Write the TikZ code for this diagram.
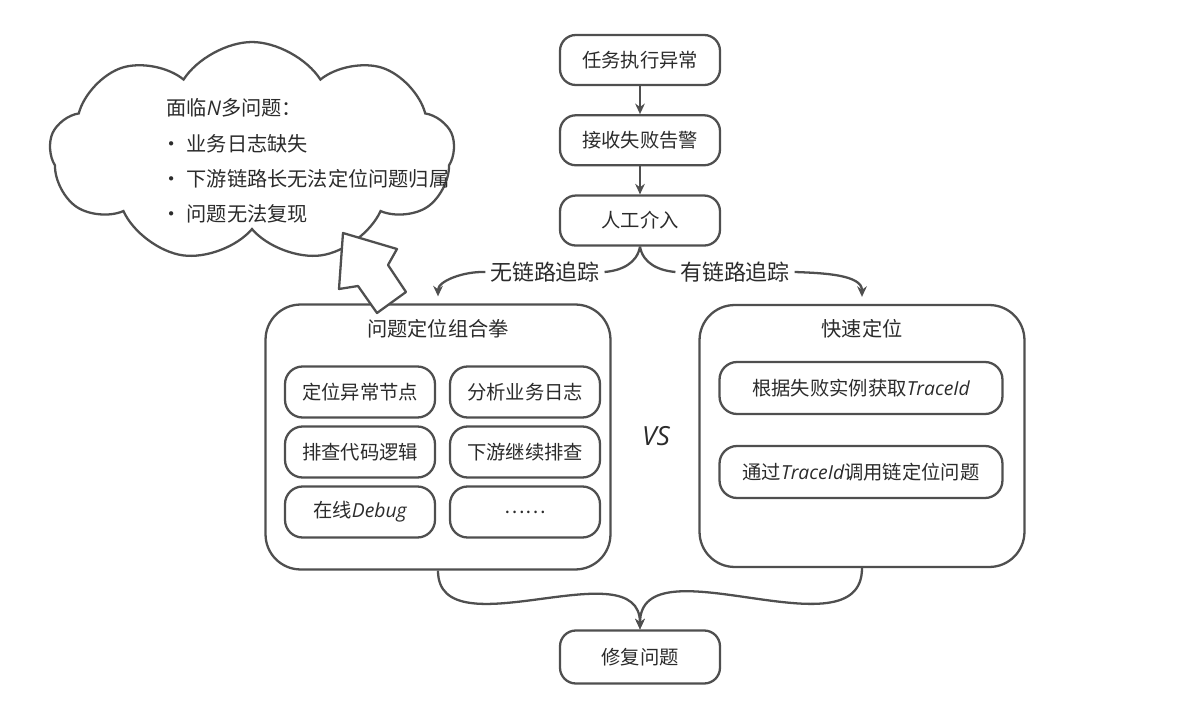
\documentclass[tikz,border=0pt]{standalone}
\usepackage{fontspec}
\setmainfont{Noto Sans CJK SC}
\newfontfamily\latfont{Open Sans}
\newcommand{\lat}[1]{{\latfont\itshape #1}}
\usepackage{xcolor}
\usetikzlibrary{arrows.meta,positioning,shapes.symbols}
\definecolor{ink}{HTML}{4F4F4F}
\definecolor{txt}{HTML}{2B2B2B}

\begin{document}
\begin{tikzpicture}[
    x=0.02cm, y=-0.02cm,
    >={Stealth[length=6pt,width=5.5pt]},
    node distance=0.56cm,
    color=ink, line width=1.3pt,
    stepbox/.style={draw, rounded corners=9pt, minimum width=3.2cm,
               minimum height=1.0cm, text=txt, font=\fontsize{11}{13}\selectfont},
    bigbox/.style={draw, rounded corners=20pt, minimum width=6.9cm,
               minimum height=5.3cm},
    subbox/.style={draw, rounded corners=10pt, minimum width=3.0cm,
               minimum height=1.02cm, text=txt, font=\fontsize{11}{13}\selectfont},
    wide/.style={subbox, minimum width=5.66cm, minimum height=1.04cm},
    ttl/.style={text=txt, font=\fontsize{11.5}{13}\selectfont},
    lbl/.style={fill=white, inner sep=2pt, text=txt,
               font=\fontsize{12.5}{14}\selectfont}
]
    \useasboundingbox (0,0) rectangle (1188,716);

    % main chain
    \node[stepbox] (err) at (640,60) {任务执行异常};
    \node[stepbox, below=of err] (alarm) {接收失败告警};
    \node[stepbox, below=of alarm] (manual) {人工介入};

    % left: no tracing
    \node[bigbox] (combo) at (438,437) {};
    \node[ttl, below=0.18cm of combo.north] (combottl) {问题定位组合拳};
    \node[subbox] (locnode) at (360,392) {定位异常节点};
    \node[subbox] (bizlog)  at (525,392) {分析业务日志};
    \node[subbox] (code)    at (360,452) {排查代码逻辑};
    \node[subbox] (down)    at (525,452) {下游继续排查};
    \node[subbox] (debug)   at (360,512) {在线\lat{Debug}};
    \node[subbox] (more)    at (525,512) {……};

    % right: with tracing
    \node[bigbox, minimum width=6.5cm, minimum height=5.24cm] (fast) at (862,436) {};
    \node[ttl, below=0.18cm of fast.north] (fastttl) {快速定位};
    \node[wide] (gettid) at (861,388) {根据失败实例获取\lat{TraceId}};
    \node[wide] (usetid) at (861,472) {通过\lat{TraceId}调用链定位问题};

    \node[text=txt, font=\latfont\itshape\fontsize{15}{17}\selectfont] (vs) at (656,436) {VS};

    \node[stepbox, minimum height=1.06cm] (fix) at (640,657) {修复问题};

    % cloud of problems
    \node[cloud, draw, cloud puffs=9, cloud puff arc=115, aspect=1.85,
          minimum width=8.1cm, minimum height=4.4cm, inner sep=0pt] (cloud) at (252,152) {};
    \node[anchor=west, align=left, text=txt, font=\fontsize{11.5}{20}\selectfont]
        (cloudtxt) at (155,161) {\ 面临\lat{N}多问题：\\ • 业务日志缺失\\ • 下游链路长无法定位问题归属\\ • 问题无法复现};
    \draw[fill=white, line join=round] (343,233) -- (397,249) -- (388,265) -- (406,292)
        -- (377,313) -- (358,286) -- (339,289) -- cycle;

    % transitions
    \draw[->] (err) -- (alarm);
    \draw[->] (alarm) -- (manual);

    \node[lbl] (nolink) at (545,272) {无链路追踪};
    \node[lbl] (haslink) at (735,272) {有链路追踪};
    \draw (manual.south) to[out=-100, in=5] (nolink.east);
    \draw[->, shorten >=4pt] (nolink.west) to[out=178, in=90] (combo.north);
    \draw (manual.south) to[out=-80, in=175] (haslink.west);
    \draw[->, shorten >=4pt] (haslink.east) to[out=-2, in=90] (fast.north);

    \draw[->] (combo.south) to[out=-90, in=90] (fix.north);
    \draw[->] (fast.south) to[out=-90, in=90] (fix.north);
\end{tikzpicture}
\end{document}
